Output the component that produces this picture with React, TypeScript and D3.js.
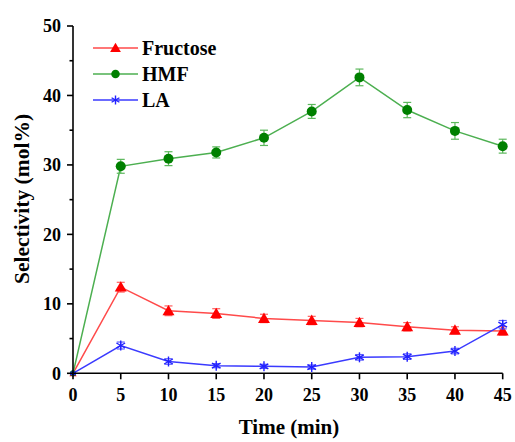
import React from "react";
import * as d3 from "d3";

const times = [0, 5, 10, 15, 20, 25, 30, 35, 40, 45];
const fructose = [0, 12.4, 9.0, 8.6, 7.9, 7.6, 7.3, 6.7, 6.2, 6.1];
const fructoseErr = [0, 0.7, 0.7, 0.7, 0.6, 0.6, 0.6, 0.6, 0.5, 0.6];
const hmf = [0, 29.8, 30.9, 31.8, 33.9, 37.7, 42.6, 37.9, 34.9, 32.7];
const hmfErr = [0, 1.0, 1.0, 0.8, 1.1, 1.0, 1.2, 1.1, 1.2, 1.0];
const la = [0, 4.0, 1.7, 1.1, 1.0, 0.9, 2.3, 2.4, 3.2, 7.0];
const laErr = [0, 0.5, 0.4, 0.3, 0.3, 0.3, 0.4, 0.4, 0.4, 0.6];
const seriesNames = ["Fructose", "HMF", "LA"];
const xTicks = [0, 5, 10, 15, 20, 25, 30, 35, 40, 45];
const yTicks = [0, 10, 20, 30, 40, 50];
const yMinorTicks = [5, 15, 25, 35, 45];

const FONT = "'Liberation Serif', 'Times New Roman', serif";

export default function App() {
  const W = 515, H = 442;
  const x = d3.scaleLinear().domain([0, 45]).range([73, 502.7]);
  const y = d3.scaleLinear().domain([0, 50]).range([373.3, 26]);

  const series = [
    { name: seriesNames[0], vals: fructose, err: fructoseErr, line: "#ff4a4a", mark: "#ff0000", errc: "#ff6060", shape: "tri" },
    { name: seriesNames[1], vals: hmf, err: hmfErr, line: "#4caf50", mark: "#008000", errc: "#5cb85c", shape: "circle" },
    { name: seriesNames[2], vals: la, err: laErr, line: "#3a3aff", mark: "#2020ff", errc: "#6060ff", shape: "star" },
  ];

  const lineGen = d3.line<number>().x((_, i) => x(times[i])).y((d) => y(d));

  const marker = (shape: string, cx: number, cy: number, color: string, key: string, s = 1) => {
    if (shape === "circle") return <circle key={key} cx={cx} cy={cy} r={5 * s} fill={color} />;
    if (shape === "tri") {
      const p = d3.symbol(d3.symbolTriangle, 62 * s * s)();
      return <path key={key} d={p || ""} transform={`translate(${cx},${cy + 1})`} fill={color} />;
    }
    const r = 5 * s;
    const lines = [0, 60, 120].map((a) => {
      const rad = (a * Math.PI) / 180;
      return (
        <line key={a} x1={cx - r * Math.sin(rad)} y1={cy - r * Math.cos(rad)} x2={cx + r * Math.sin(rad)} y2={cy + r * Math.cos(rad)} stroke={color} strokeWidth={1.4} />
      );
    });
    return <g key={key}>{lines}</g>;
  };

  return (
    <svg width={W} height={H} style={{ position: "absolute", left: 0, top: 0, background: "#fff" }}>
      {series.map((s) => (
        <g key={s.name}>
          <path d={lineGen(s.vals) || ""} fill="none" stroke={s.line} strokeWidth={1.5} />
          {s.vals.map((v, i) =>
            s.err[i] > 0 ? (
              <g key={i} stroke={s.errc} strokeWidth={1.2}>
                <line x1={x(times[i])} x2={x(times[i])} y1={y(v - s.err[i])} y2={y(v + s.err[i])} />
                <line x1={x(times[i]) - 4} x2={x(times[i]) + 4} y1={y(v - s.err[i])} y2={y(v - s.err[i])} />
                <line x1={x(times[i]) - 4} x2={x(times[i]) + 4} y1={y(v + s.err[i])} y2={y(v + s.err[i])} />
              </g>
            ) : null
          )}
          {s.vals.map((v, i) => marker(s.shape, x(times[i]), y(v), s.mark, `m${i}`, i === 0 ? 0.6 : 1))}
        </g>
      ))}

      {/* axes */}
      <g stroke="#000" strokeWidth={1.6}>
        <line x1={x(0)} x2={x(0)} y1={y(50)} y2={y(0) + 0.8} />
        <line x1={x(0) - 0.8} x2={x(45)} y1={y(0)} y2={y(0)} />
        {yTicks.map((t) => (
          <line key={t} x1={x(0) - 6} x2={x(0)} y1={y(t)} y2={y(t)} />
        ))}
        {yMinorTicks.map((t) => (
          <line key={t} x1={x(0) - 3.5} x2={x(0)} y1={y(t)} y2={y(t)} />
        ))}
        {xTicks.map((t) => (
          <line key={t} x1={x(t)} x2={x(t)} y1={y(0)} y2={y(0) + 6} />
        ))}
      </g>
      <g fontFamily={FONT} fontWeight="bold" fontSize={18} fill="#000">
        {yTicks.map((t) => (
          <text key={t} x={x(0) - 12} y={y(t)} dy="0.35em" textAnchor="end">{t}</text>
        ))}
        {xTicks.map((t) => (
          <text key={t} x={x(t)} y={401} textAnchor="middle">{t}</text>
        ))}
        <text x={289} y={434} textAnchor="middle" fontSize={21}>Time (min)</text>
        <text transform={`translate(29,${199}) rotate(-90)`} textAnchor="middle" fontSize={21.5}>Selectivity (mol%)</text>
      </g>

      {/* legend */}
      <g fontFamily={FONT} fontWeight="bold" fontSize={20}>
        {series.map((s, i) => {
          const ly = 48 + i * 26;
          return (
            <g key={s.name}>
              <line x1={93} x2={138} y1={ly} y2={ly} stroke={s.line} strokeWidth={1.5} />
              {marker(s.shape, 115.5, ly, s.mark, "lm", s.shape === "circle" ? 0.85 : 0.9)}
              <text x={142} y={ly} dy="0.35em">{s.name}</text>
            </g>
          );
        })}
      </g>
    </svg>
  );
}
